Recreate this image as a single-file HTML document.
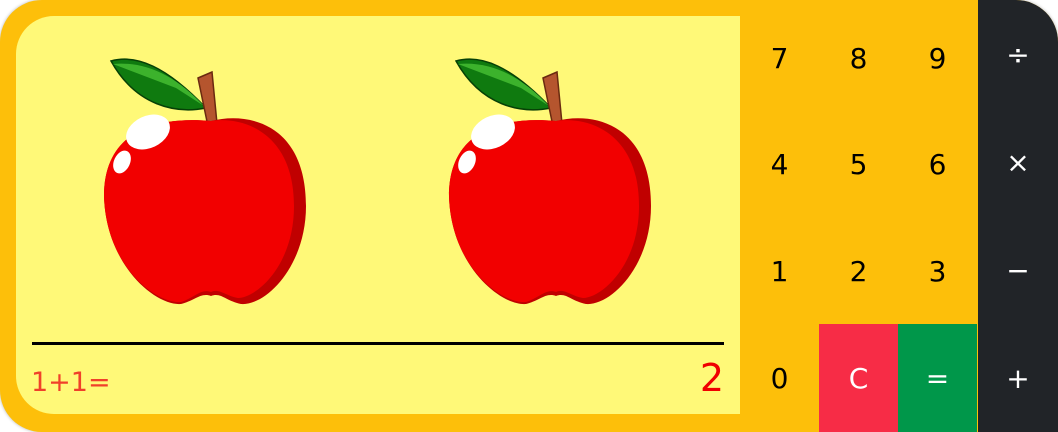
<!DOCTYPE html>
<html><head><meta charset="utf-8"><style>
html,body{margin:0;padding:0;background:#fff;}
#calc{position:absolute;left:0;top:0;width:1058px;height:432px;font-family:"DejaVu Sans","Liberation Sans",sans-serif;}
#frame{position:absolute;left:0;top:0;width:1058px;height:432px;background:#fdbf0a;border-radius:42px 42px 0 42px;overflow:hidden;box-shadow:0 0 3px rgba(0,0,0,.3);}
#screen{position:absolute;left:16px;top:16px;width:724px;height:398px;background:#fff978;border-radius:38px 0 0 38px;}
#line{position:absolute;left:16px;top:326px;width:692px;height:3px;background:#000;}
#expr{position:absolute;left:15px;top:351px;font-size:27px;color:#f0402a;}
#res{position:absolute;right:16px;top:340px;font-size:38px;color:#f00000;}
.k{position:absolute;width:79px;height:108px;display:flex;align-items:center;justify-content:center;font-size:28px;color:#000;}
.op{background:#212428;color:#fff;width:80px;left:978px;}
</style></head><body>
<div id="calc">
<div id="frame">
<div id="screen">
<svg width="724" height="320" style="position:absolute;left:0;top:0">
<defs><g id="apple">
<path d="M95,45 C120,38 150,50 190,92 C160,98 120,90 95,45Z" fill="#0f7a0f" stroke="#064006" stroke-width="1.5"/>
<path d="M97,48 C130,45 160,60 188,90 L160,72 Z" fill="#3cb22c"/>
<path d="M182,62 L196,56 L202,118 L194,120 Z" fill="#b5552e" stroke="#6a2a10" stroke-width="1.5"/>
<path d="M195,105 C235,95 290,110 290,190 C290,250 250,290 225,288 C210,285 205,276 195,280 C185,276 178,285 165,288 C140,290 90,250 88,180 C88,115 140,100 195,105Z" fill="#c00000"/>
<path d="M195,105 C225,100 278,115 278,190 C278,250 240,282 222,282 C210,280 203,272 195,276 C185,272 178,282 165,286 C140,288 90,250 88,180 C88,115 140,100 195,105Z" fill="#f20000"/>
<ellipse cx="132" cy="116" rx="23" ry="16" fill="#fff" transform="rotate(-25 132 116)"/>
<ellipse cx="106" cy="146" rx="8" ry="12" fill="#fff" transform="rotate(25 106 146)"/>
</g></defs>
<use href="#apple"/>
<use href="#apple" x="345"/>
</svg>
<div id="line"></div>
<div id="expr">1+1=</div>
<div id="res">2</div>
</div>
<div class="k" style="left:740px;top:4px">7</div>
<div class="k" style="left:819px;top:4px">8</div>
<div class="k" style="left:898px;top:4px">9</div>
<div class="k" style="left:740px;top:110px">4</div>
<div class="k" style="left:819px;top:110px">5</div>
<div class="k" style="left:898px;top:110px">6</div>
<div class="k" style="left:740px;top:217px">1</div>
<div class="k" style="left:819px;top:217px">2</div>
<div class="k" style="left:898px;top:217px">3</div>
<div class="k" style="left:740px;top:324px">0</div>
<div class="k" style="left:819px;top:324px;background:#f72c46;color:#fff">C</div>
<div class="k" style="left:898px;top:324px;background:#00974a;color:#fff">=</div>
<div class="k op" style="top:0">÷</div>
<div class="k op" style="top:108px">×</div>
<div class="k op" style="top:216px">−</div>
<div class="k op" style="top:324px">+</div>
</div>
</div>
</body></html>
